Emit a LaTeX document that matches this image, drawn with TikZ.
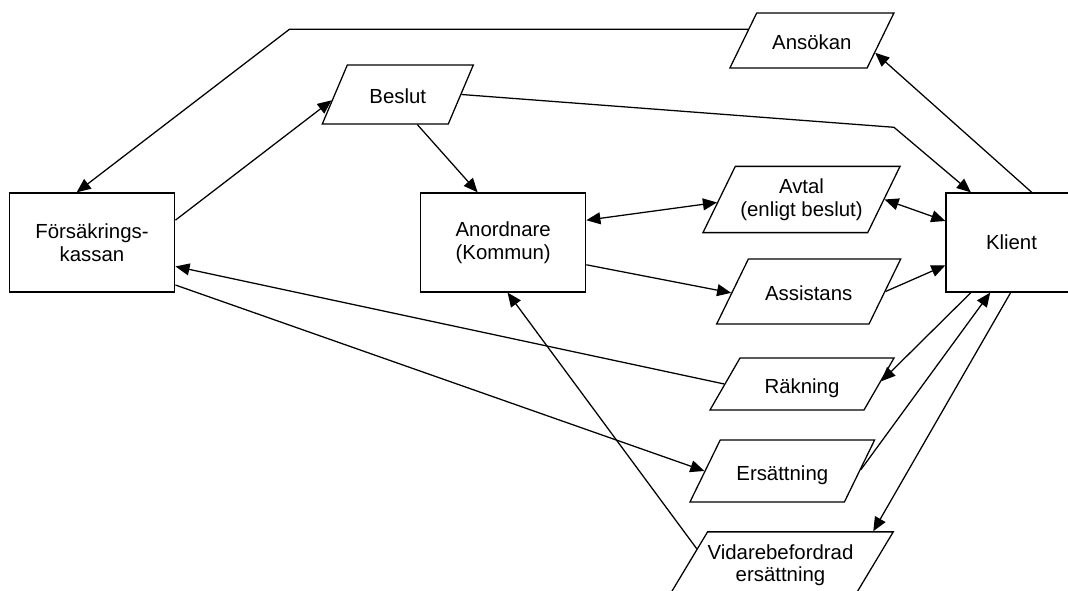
\documentclass[tikz,border=0pt]{standalone}
\usepackage{fontspec}
\setmainfont{Liberation Sans}
\usetikzlibrary{shapes.geometric,arrows.meta}

\begin{document}
\begin{tikzpicture}[
    x=0.025cm, y=-0.025cm,
    every node/.style={font=\fontsize{14.5}{16}\selectfont},
    line width=0.9pt,
    >={Triangle[length=10pt,width=8.5pt]},
    box/.style={rectangle,draw,minimum width=#1,minimum height=2.475cm,align=center},
    data/.style={trapezium,draw,trapezium left angle=64,trapezium right angle=116,
        trapezium stretches body,align=center,inner xsep=0pt},
    oneline/.style={text height=13.5pt,text depth=0.3pt,inner ysep=#1}
]
\useasboundingbox (0,0) rectangle (1068,591);

% Boxes (absolute positions)
\node[box=4.14cm]  (fk)        at (92,242.5)    {Försäkrings-\\kassan};
\node[box=4.125cm] (anordnare) at (503.2,242.5) {Anordnare\\(Kommun)};
\node[box=3.275cm] (klient)    at (1011.5,242.5) {Klient};

% Documents
\node[data,oneline=14.08pt,minimum width=3.775cm,
    trapezium left angle=67,trapezium right angle=113] (beslut) at (397.8,94.5) {Beslut};
\node[data,oneline=12.66pt,minimum width=4.1cm]   (ansokan)    at (811.9,40.5)  {Ansökan};
\node[data,inner ysep=8.8pt,minimum width=4.925cm] (avtal)     at (801.5,199.5) {Avtal\\(enligt beslut)};
\node[data,oneline=16.22pt,minimum width=4.6cm]   (assistans)  at (808.7,291.5) {Assistans};
\node[data,oneline=11.6pt,minimum width=4.6cm,
    trapezium left angle=60,trapezium right angle=120] (rakning) at (802,384) {Räkning};
\node[data,oneline=15.15pt,minimum width=4.615cm] (ersattning) at (782.3,471)   {Ersättning};
\node[data,inner ysep=8.8pt,minimum width=5.5cm,
    trapezium left angle=59,trapezium right angle=121] (vidare) at (780.5,565) {Vidarebefordrad\\ersättning};

% Bend points
\coordinate (knee1) at (289.5,0);
\coordinate (knee2) at (894,127.3);

% Flows
\draw[->] (ansokan.170) -- (ansokan.170 -| knee1) -- (fk.107);
\draw[->] (fk.15) -- (beslut.185);
\draw[->] (beslut.303) -- (anordnare.117);
\draw[->] (beslut.0) -- (knee2) -- (klient.129);
\draw[->] (klient.68) -- (ansokan.349);
\draw[<->] (anordnare.15) -- (avtal.182);
\draw[<->] (avtal.0) -- (klient.162);
\draw[->] (anordnare.345) -- (assistans.181);
\draw[->] (assistans.0) -- (klient.199);
\draw[->] (rakning.180) -- (fk.344);
\draw[->] (klient.231) -- (rakning.2);
\draw[->] (fk.333) -- (ersattning.180);
\draw[->] (ersattning.1) -- (klient.247);
\draw[->] (klient.269) -- (vidare.20);
\draw[->] (vidare.169) -- (anordnare.275);

\end{tikzpicture}
\end{document}
